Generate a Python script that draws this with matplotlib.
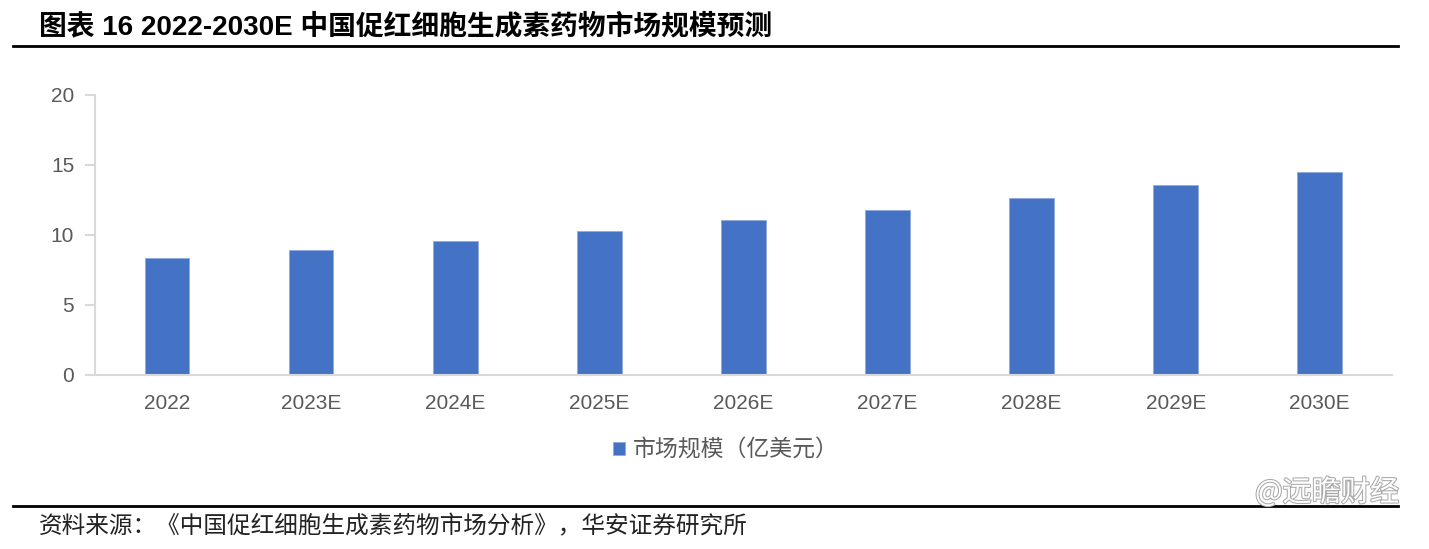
import numpy as np
import matplotlib.pyplot as plt
import matplotlib.patheffects as pe
from matplotlib.lines import Line2D

plt.rcParams['font.family'] = ['Liberation Sans', 'Noto Sans CJK SC', 'DejaVu Sans']

# data
years = ["2022", "2023E", "2024E", "2025E", "2026E", "2027E", "2028E", "2029E", "2030E"]
market_size = [8.35, 8.95, 9.6, 10.25, 11.05, 11.8, 12.65, 13.55, 14.5]

grey = "#595959"
blue = "#4472C4"

fig = plt.figure(figsize=(14.29, 5.49), dpi=100)
ax = fig.add_axes([0.0665, 0.317, 0.9075, 0.51])

x = np.arange(len(years))
ax.bar(x, market_size, width=0.31, color=blue, edgecolor="#8FAADC", linewidth=0.6,
       label="市场规模（亿美元）")

ax.set_xlim(-0.5, len(years) - 0.5)
ax.set_ylim(0, 20)
ax.set_yticks([0, 5, 10, 15, 20])
ax.set_xticks(x)
ax.set_xticklabels(years)

for s in ["top", "right"]:
    ax.spines[s].set_visible(False)
for s in ["left", "bottom"]:
    ax.spines[s].set_color("#D9D9D9")
    ax.spines[s].set_linewidth(1.5)
ax.tick_params(axis="y", colors=grey, labelsize=15, length=7, width=1.5, color="#D9D9D9", pad=8)
ax.tick_params(axis="x", colors=grey, labelsize=15, length=0, pad=14)

ax.legend(loc="center", bbox_to_anchor=(0.508, 0.18), bbox_transform=fig.transFigure,
          frameon=False, labelcolor=grey, handlelength=0.55, handleheight=0.55,
          handletextpad=0.35, prop={'family': ['Noto Sans CJK SC'], 'size': 16.5})

# title and rules
fig.text(0.027, 0.951, "图表 16 2022-2030E 中国促红细胞生成素药物市场规模预测", fontsize=20,
         fontweight="bold", va="center", ha="left", color="black",
         family=['Liberation Sans', 'Noto Sans CJK SC'])
fig.add_artist(Line2D([0.009, 0.978], [0.916, 0.916], color="black", linewidth=2))
fig.add_artist(Line2D([0.009, 0.978], [0.078, 0.078], color="black", linewidth=2))

fig.text(0.027, 0.040, "资料来源：《中国促红细胞生成素药物市场分析》，华安证券研究所", fontsize=17,
         va="center", ha="left", color="#222222", family=['Noto Sans CJK SC'])

# watermark
fig.text(0.979, 0.102, "@远瞻财经", fontsize=21, va="center", ha="right", color="white",
         family=['Noto Sans CJK SC'],
         path_effects=[pe.withStroke(linewidth=1.5, foreground="#AAAAAA")])

fig.savefig("out.png", dpi=100)
